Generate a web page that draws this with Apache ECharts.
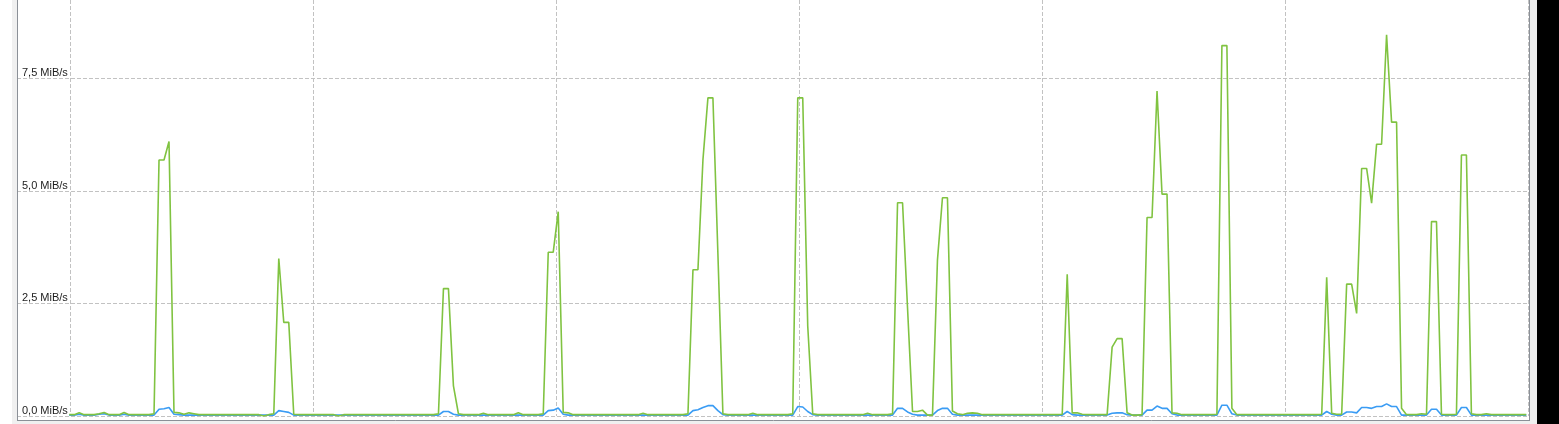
<!DOCTYPE html>
<html><head><meta charset="utf-8">
<script src="https://cdn.jsdelivr.net/npm/echarts@6/dist/echarts.min.js"></script>
<style>html,body{margin:0;padding:0;background:#fff;}#c{width:1559px;height:424px;}</style>
</head><body><div id="c"></div>
<script>
// y-axis ticks and labels
const yTicks = [0, 2.5, 5, 7.5];
const yTickLabels = ['0,0 MiB/s', '2,5 MiB/s', '5,0 MiB/s', '7,5 MiB/s'];
const yMax = 9.244;
const xDivisions = 6;

// green series (MiB/s), one value per sample
const green = [
  0.03,0.03,0.07,0.03,0.03,0.03,0.05,0.08,0.03,0.03,
  0.03,0.08,0.03,0.03,0.03,0.03,0.03,0.05,5.69,5.69,
  6.1,0.08,0.07,0.04,0.07,0.05,0.03,0.03,0.03,0.03,
  0.03,0.03,0.03,0.03,0.03,0.03,0.03,0.03,0.03,0.0,
  0.03,0.05,3.5,2.08,2.08,0.04,0.03,0.03,0.03,0.03,
  0.03,0.03,0.03,0.03,0.0,0.03,0.03,0.03,0.03,0.03,
  0.03,0.03,0.03,0.03,0.03,0.03,0.03,0.03,0.03,0.03,
  0.03,0.03,0.03,0.03,0.05,2.83,2.83,0.67,0.05,0.03,
  0.03,0.03,0.03,0.06,0.03,0.03,0.03,0.03,0.03,0.03,
  0.07,0.03,0.03,0.03,0.03,0.05,3.64,3.64,4.54,0.08,
  0.07,0.03,0.03,0.03,0.03,0.03,0.03,0.03,0.03,0.03,
  0.03,0.03,0.03,0.03,0.03,0.06,0.03,0.03,0.03,0.03,
  0.03,0.03,0.03,0.03,0.05,3.25,3.25,5.69,7.07,7.07,
  3.6,0.05,0.03,0.03,0.03,0.03,0.03,0.06,0.03,0.03,
  0.03,0.03,0.03,0.03,0.03,0.05,7.07,7.07,2.0,0.05,
  0.03,0.03,0.03,0.03,0.03,0.03,0.03,0.03,0.03,0.03,
  0.06,0.03,0.03,0.03,0.03,0.05,4.74,4.74,2.4,0.1,
  0.1,0.13,0.02,0.02,3.47,4.85,4.85,0.11,0.05,0.03,
  0.06,0.07,0.06,0.03,0.03,0.03,0.03,0.03,0.03,0.03,
  0.03,0.03,0.03,0.03,0.03,0.03,0.03,0.03,0.03,0.04,
  3.15,0.07,0.07,0.04,0.03,0.03,0.03,0.03,0.03,1.53,
  1.72,1.72,0.07,0.02,0.02,0.03,4.41,4.41,7.22,4.93,
  4.93,0.07,0.06,0.03,0.03,0.03,0.03,0.03,0.03,0.03,
  0.04,8.23,8.23,0.17,0.03,0.03,0.03,0.03,0.03,0.03,
  0.03,0.03,0.03,0.03,0.03,0.03,0.03,0.03,0.03,0.03,
  0.03,0.04,3.08,0.06,0.04,0.04,2.93,2.93,2.28,5.5,
  5.5,4.73,6.04,6.04,8.47,6.53,6.53,0.17,0.03,0.03,
  0.03,0.05,0.04,4.32,4.32,0.04,0.03,0.03,0.04,5.8,
  5.8,0.05,0.03,0.03,0.05,0.03,0.03,0.03,0.03,0.03,
  0.03,0.03,0.03
];

// blue series (MiB/s), one value per sample
const blue = [
  0.02,0.02,0.04,0.02,0.02,0.02,0.04,0.05,0.02,0.02,
  0.02,0.04,0.02,0.02,0.02,0.02,0.02,0.02,0.15,0.16,
  0.19,0.04,0.03,0.02,0.02,0.02,0.02,0.02,0.02,0.02,
  0.02,0.02,0.02,0.02,0.02,0.02,0.02,0.02,0.02,0.02,
  0.02,0.02,0.12,0.1,0.08,0.02,0.02,0.02,0.02,0.02,
  0.02,0.02,0.02,0.02,0.02,0.02,0.02,0.02,0.02,0.02,
  0.02,0.02,0.02,0.02,0.02,0.02,0.02,0.02,0.02,0.02,
  0.02,0.02,0.02,0.02,0.02,0.1,0.1,0.04,0.02,0.02,
  0.02,0.02,0.02,0.02,0.02,0.02,0.02,0.02,0.02,0.02,
  0.02,0.02,0.02,0.02,0.02,0.02,0.12,0.13,0.18,0.04,
  0.02,0.02,0.02,0.02,0.02,0.02,0.02,0.02,0.02,0.02,
  0.02,0.02,0.02,0.02,0.02,0.02,0.02,0.02,0.02,0.02,
  0.02,0.02,0.02,0.02,0.02,0.12,0.14,0.19,0.23,0.23,
  0.12,0.03,0.02,0.02,0.02,0.02,0.02,0.02,0.02,0.02,
  0.02,0.02,0.02,0.02,0.02,0.02,0.21,0.2,0.1,0.03,
  0.02,0.02,0.02,0.02,0.02,0.02,0.02,0.02,0.02,0.02,
  0.02,0.02,0.02,0.02,0.02,0.02,0.17,0.17,0.09,0.04,
  0.02,0.02,0.02,0.02,0.12,0.17,0.17,0.04,0.02,0.02,
  0.02,0.02,0.02,0.02,0.02,0.02,0.02,0.02,0.02,0.02,
  0.02,0.02,0.02,0.02,0.02,0.02,0.02,0.02,0.02,0.02,
  0.1,0.03,0.02,0.02,0.02,0.02,0.02,0.02,0.02,0.06,
  0.07,0.07,0.03,0.02,0.02,0.02,0.13,0.13,0.22,0.17,
  0.17,0.05,0.02,0.02,0.02,0.02,0.02,0.02,0.02,0.02,
  0.02,0.24,0.24,0.05,0.02,0.02,0.02,0.02,0.02,0.02,
  0.02,0.02,0.02,0.02,0.02,0.02,0.02,0.02,0.02,0.02,
  0.02,0.02,0.1,0.04,0.02,0.02,0.09,0.09,0.07,0.19,
  0.19,0.17,0.21,0.21,0.27,0.21,0.21,0.02,0.02,0.02,
  0.02,0.02,0.02,0.15,0.15,0.02,0.02,0.02,0.02,0.19,
  0.19,0.02,0.02,0.02,0.02,0.02,0.02,0.02,0.02,0.02,
  0.02,0.02,0.02
];

const samples = green.map((_, i) => i);

const gridLineStyle = { color: '#c2c2c2', width: 1, type: [4, 2] };
const borderColor = '#8b9097';

const chart = echarts.init(document.getElementById('c'), null, { renderer: 'canvas' });
chart.setOption({
  animation: false,
  backgroundColor: '#ffffff',
  grid: [
    { left: 17, right: 31, top: 0, bottom: 8 },
    { left: 70, right: 31, top: 0, bottom: 8 },
    { left: 69.2, right: 32.7, top: 0, bottom: 8 }
  ],
  xAxis: [
    { gridIndex: 0, type: 'value', show: false },
    { gridIndex: 1, type: 'value', min: 0, max: xDivisions, interval: 1,
      axisLine: { show: false }, axisTick: { show: false }, axisLabel: { show: false },
      splitLine: { show: true, lineStyle: gridLineStyle } },
    { gridIndex: 2, type: 'category', data: samples, boundaryGap: false, show: false }
  ],
  yAxis: [
    { gridIndex: 0, type: 'value', min: 0, max: yMax, interval: 2.5,
      axisLine: { show: false }, axisTick: { show: false },
      axisLabel: {
        inside: true, margin: 5, showMaxLabel: false,
        fontFamily: 'Liberation Sans', fontSize: 11, color: '#1c1c1c',
        verticalAlign: 'bottom', lineHeight: 11,
        formatter: (v) => { const k = yTicks.indexOf(v); return k >= 0 ? yTickLabels[k] : ''; }
      },
      splitLine: { show: true, showMaxLine: false, lineStyle: gridLineStyle } },
    { gridIndex: 1, type: 'value', min: 0, max: yMax, show: false },
    { gridIndex: 2, type: 'value', min: 0, max: yMax, show: false }
  ],
  series: [
    { type: 'line', name: 'blue', xAxisIndex: 2, yAxisIndex: 2, data: blue,
      showSymbol: false, symbol: 'none', smooth: false,
      lineStyle: { color: '#3a9cf4', width: 1.6 }, z: 3 },
    { type: 'line', name: 'green', xAxisIndex: 2, yAxisIndex: 2, data: green,
      showSymbol: false, symbol: 'none', smooth: false,
      lineStyle: { color: '#80c341', width: 1.6 }, z: 4 }
  ],
  graphic: [
    { type: 'rect', shape: { x: 12, y: 0, width: 5, height: 424 }, style: { fill: '#f0f0f0' }, z: 100, silent: true },
    { type: 'rect', shape: { x: 12, y: 421, width: 1526, height: 3 }, style: { fill: '#f0f0f0' }, z: 100, silent: true },
    { type: 'rect', shape: { x: 1530, y: 0, width: 7, height: 424 }, style: { fill: '#f0f0f0' }, z: 100, silent: true },
    { type: 'rect', shape: { x: 1537, y: 0, width: 22, height: 424 }, style: { fill: '#000000' }, z: 100, silent: true },
    { type: 'line', shape: { x1: 17.5, y1: 0, x2: 17.5, y2: 421 }, style: { stroke: borderColor, lineWidth: 1 }, z: 101, silent: true },
    { type: 'line', shape: { x1: 17, y1: 420.5, x2: 1530, y2: 420.5 }, style: { stroke: borderColor, lineWidth: 1 }, z: 101, silent: true },
    { type: 'line', shape: { x1: 1529.5, y1: 0, x2: 1529.5, y2: 421 }, style: { stroke: borderColor, lineWidth: 1 }, z: 101, silent: true }
  ]
});
</script>
</body></html>
